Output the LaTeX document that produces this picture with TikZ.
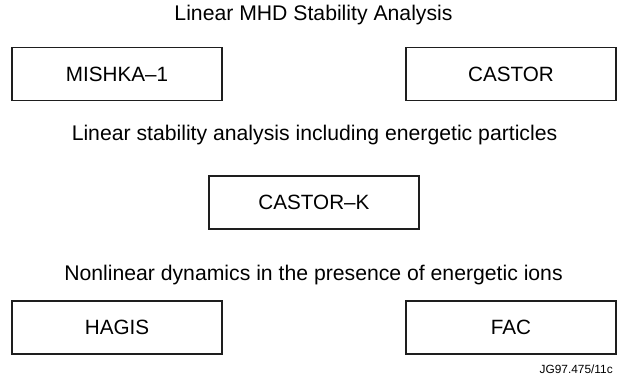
\documentclass[tikz,border=0pt]{standalone}
\usepackage{fontspec}
\setmainfont{Liberation Sans}
\usepackage{xcolor}

\begin{document}
\begin{tikzpicture}[x=0.75pt,y=0.75pt,yscale=-1,xscale=1,
  codebox/.style={draw={rgb, 255:red, 30; green, 30; blue, 30},line width=1.1pt,minimum width=157.5pt,minimum height=39.5pt,inner sep=0pt,font=\fontsize{15.5}{18}\selectfont},
  heading/.style={anchor=base,inner sep=0pt,font=\fontsize{15.9}{18}\selectfont}]
%set diagram to 627 x 376
\useasboundingbox (0,0) rectangle (627,376);

% Text Node
\node [heading] (mhd) at (313.5,20) {Linear MHD Stability Analysis};
% Boxes: linear MHD codes
\node [codebox] (mishka) at (117,74) {MISHKA--1};
\node [codebox] (castor) at (511,74) {CASTOR};

% Text Node
\node [heading] (kinetic) at (314.5,140) {Linear stability analysis including energetic particles};
% Box: kinetic extension
\node [codebox] (castork) at (314,202.5) {CASTOR--K};

% Text Node
\node [heading] (nonlin) at (313.5,280) {Nonlinear dynamics in the presence of energetic ions};
% Boxes: nonlinear codes
\node [codebox] (hagis) at (117,327.5) {HAGIS};
\node [codebox] (fac) at (511,327.5) {FAC};

% Text Node
\node [anchor=base east,inner sep=0pt,font=\fontsize{8.9}{10}\selectfont] (ref) at (613,373.5) {JG97.475/11c};
\end{tikzpicture}
\end{document}
